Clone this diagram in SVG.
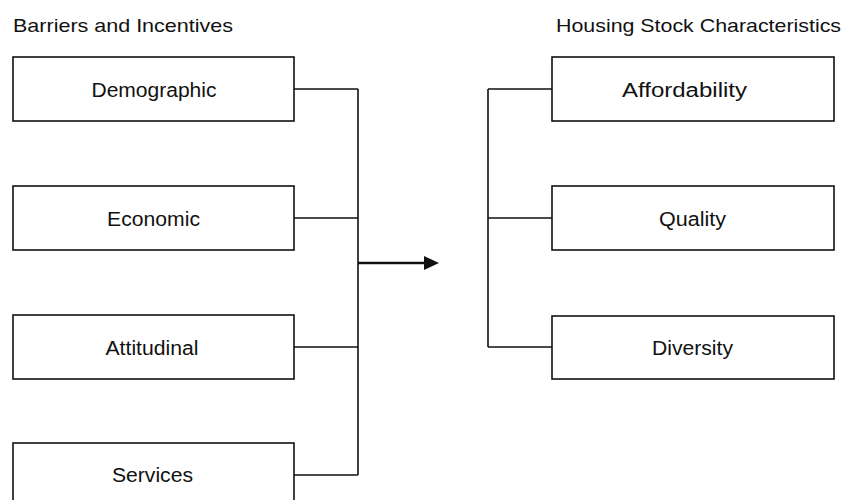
<svg xmlns="http://www.w3.org/2000/svg" width="843" height="500" viewBox="0 0 843 500">
<defs>
<style>
.box{fill:#fff;stroke:#111;stroke-width:1.6}
.lbl{font-family:"Liberation Sans",Arial,sans-serif;font-size:19.5px;fill:#111;text-anchor:middle}
.ttl{font-family:"Liberation Sans",Arial,sans-serif;font-size:18.5px;fill:#111}
.con{fill:none;stroke:#111;stroke-width:1.6}
</style>
</defs>
<rect width="843" height="500" fill="#fff"/>
<text class="ttl" x="13" y="32" textLength="220" lengthAdjust="spacingAndGlyphs">Barriers and Incentives</text>
<text class="ttl" x="556" y="32" textLength="285" lengthAdjust="spacingAndGlyphs">Housing Stock Characteristics</text>
<g id="connectors">
<path class="con" d="M294,89 H358 M294,218 H358 M294,347 H358 M294,475 H358 M358,89 V475"/>
<path class="con" d="M488,89 V347 M488,89 H552 M488,218 H552 M488,347 H552"/>
<line x1="358" y1="263" x2="427" y2="263" stroke="#111" stroke-width="2.6"/>
<polygon points="424,256 439,263 424,270" fill="#111"/>
</g>
<g id="demographic"><rect class="box" x="13" y="57" width="281" height="64"/><text class="lbl" x="154" y="97" textLength="125" lengthAdjust="spacingAndGlyphs">Demographic</text></g>
<g id="economic"><rect class="box" x="13" y="186" width="281" height="64"/><text class="lbl" x="153.5" y="226" textLength="93" lengthAdjust="spacingAndGlyphs">Economic</text></g>
<g id="attitudinal"><rect class="box" x="13" y="315" width="281" height="64"/><text class="lbl" x="152" y="355" textLength="93" lengthAdjust="spacingAndGlyphs">Attitudinal</text></g>
<g id="services"><rect class="box" x="13" y="443" width="281" height="64"/><text class="lbl" x="152.5" y="482" textLength="81" lengthAdjust="spacingAndGlyphs">Services</text></g>
<g id="affordability"><rect class="box" x="552" y="57" width="282" height="64"/><text class="lbl" x="684.5" y="97" textLength="125" lengthAdjust="spacingAndGlyphs">Affordability</text></g>
<g id="quality"><rect class="box" x="552" y="186" width="282" height="64"/><text class="lbl" x="692.5" y="226" textLength="67" lengthAdjust="spacingAndGlyphs">Quality</text></g>
<g id="diversity"><rect class="box" x="552" y="316" width="282" height="63"/><text class="lbl" x="692.5" y="355" textLength="81" lengthAdjust="spacingAndGlyphs">Diversity</text></g>
</svg>
